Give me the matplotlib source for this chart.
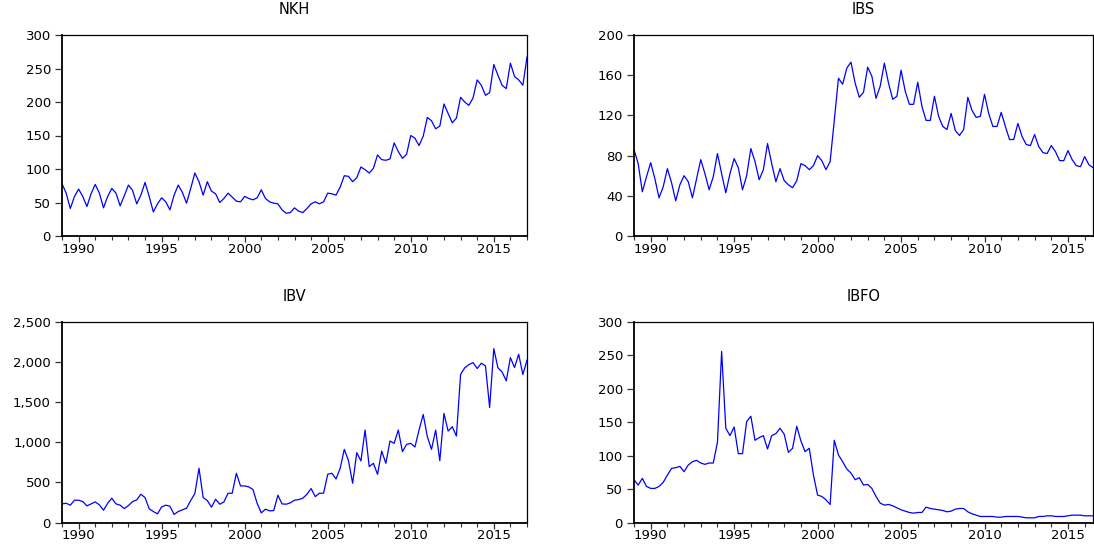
import numpy as np
import matplotlib
matplotlib.use("Agg")
import matplotlib.pyplot as plt
from matplotlib.ticker import MultipleLocator, FuncFormatter

plt.rcParams['font.family'] = ['DejaVu Sans']

# quarterly data, first observation 1989Q1
nkh = [78, 64, 41, 59, 70, 59, 44, 63, 77, 64, 42, 59, 71, 64, 45, 60,
       76, 68, 48, 61, 80, 59, 36, 48, 57, 51, 39, 61, 76, 65, 49, 71,
       94, 81, 61, 81, 67, 63, 50, 56, 64, 58, 52, 51, 59, 56, 54, 57,
       69, 56, 51, 49, 48, 39, 34, 35, 42, 37, 35, 41, 48, 51, 48, 51,
       64, 63, 61, 73, 90, 89, 81, 87, 103, 99, 94, 101, 121, 114, 113, 115,
       139, 126, 116, 122, 150, 146, 135, 149, 177, 172, 160, 164,
       197, 183, 169, 176, 207, 200, 195, 206, 233, 225, 210, 214,
       256, 240, 225, 220, 258, 238, 233, 225, 267]

ibs = [86, 72, 44, 59, 73, 57, 38, 49, 67, 53, 35, 51, 60, 54, 38, 57,
       76, 62, 46, 59, 82, 62, 43, 62, 77, 68, 46, 60, 87, 74, 56, 66,
       92, 72, 54, 67, 55, 51, 48, 55, 72, 70, 66, 70, 80, 75, 66, 74,
       115, 157, 151, 167, 173, 152, 138, 143, 168, 159, 137, 149,
       172, 152, 136, 139, 165, 144, 131, 131, 153, 129, 115, 115,
       139, 119, 109, 106, 122, 105, 100, 106, 138, 125, 118, 119,
       141, 122, 109, 109, 123, 109, 96, 96, 112, 99, 91, 90,
       101, 89, 83, 82, 90, 84, 75, 75, 85, 76, 70, 69, 79, 71, 68]

ibv = [232, 240, 216, 278, 278, 261, 207, 232, 257, 220, 153, 240,
       303, 232, 216, 174, 211, 261, 282, 352, 311, 170, 137, 108,
       195, 216, 203, 100, 137, 158, 178, 274, 361, 676, 311, 274,
       191, 290, 228, 257, 365, 365, 614, 456, 456, 444, 410, 240,
       120, 166, 145, 149, 340, 232, 228, 245, 278, 286, 303, 352,
       423, 323, 365, 365, 601, 614, 543, 676, 912, 771, 489, 871,
       767, 1153, 697, 738, 601, 891, 738, 1016, 987, 1153, 883, 974,
       987, 941, 1153, 1347, 1070, 912, 1153, 771, 1360, 1140, 1194, 1078,
       1845, 1928, 1969, 1994, 1920, 1986, 1953, 1434,
       2168, 1928, 1878, 1766, 2056, 1932, 2098, 1845, 2023]

ibfo = [64, 56, 66, 54, 51, 51, 54, 60, 71, 81, 82, 84, 76, 86, 91, 93,
        89, 87, 89, 89, 120, 256, 141, 130, 143, 103, 103, 151,
        159, 123, 127, 130, 110, 130, 133, 141, 132, 105, 111, 144,
        122, 106, 111, 71, 41, 39, 34, 27, 123, 101, 91, 80,
        74, 64, 67, 56, 57, 51, 39, 29, 26, 27, 25, 22,
        19, 17, 15, 14, 15, 15, 23, 21, 20, 19, 18, 16,
        17, 20, 21, 21, 16, 13, 11, 9, 9, 9, 9, 8, 8, 9, 9, 9,
        9, 8, 7, 7, 7, 9, 9, 10, 10, 9, 9, 9, 10, 11, 11, 11, 10, 10, 10]

titles = ['NKH', 'IBS', 'IBV', 'IBFO']
series = [nkh, ibs, ibv, ibfo]
ymax = [300, 200, 2500, 300]
ystep = [50, 40, 500, 50]

W, H = 1094, 545
fig = plt.figure(figsize=(W / 100, H / 100), dpi=100)

# axes boxes in pixels: left, top, right, bottom
boxes = [(62, 35, 527, 236), (634, 35, 1093, 236),
         (62, 322, 527, 522.5), (634, 322, 1093, 522.5)]

for title, data, top, step, (l, t, r, b) in zip(titles, series, ymax, ystep, boxes):
    ax = fig.add_axes([l / W, 1 - b / H, (r - l) / W, (b - t) / H])
    x = 1989 + np.arange(len(data)) / 4
    ax.plot(x, data, color='#0000ff', lw=0.9)
    ax.set_xlim(1989, x[-1])
    ax.set_ylim(0, top)
    ax.yaxis.set_major_locator(MultipleLocator(step))
    ax.yaxis.set_major_formatter(FuncFormatter(lambda v, p: f'{v:,.0f}'))
    ax.set_xticks([1990, 1995, 2000, 2005, 2010, 2015])
    ax.xaxis.set_minor_locator(MultipleLocator(1))
    ax.tick_params(axis='both', which='major', labelsize=9.5, direction='out',
                   color='#333333', width=0.9, pad=3)
    ax.tick_params(axis='y', length=5)
    ax.tick_params(axis='x', which='major', length=4, pad=1)
    ax.tick_params(axis='x', which='minor', length=3, width=0.8, color='#333333')
    for side in ['left', 'bottom']:
        ax.spines[side].set_linewidth(1.3)
    for side in ['top', 'right']:
        ax.spines[side].set_linewidth(0.9)
    ax.set_title(title, fontsize=10.5, pad=15)

fig.savefig('out.png', dpi=100)
